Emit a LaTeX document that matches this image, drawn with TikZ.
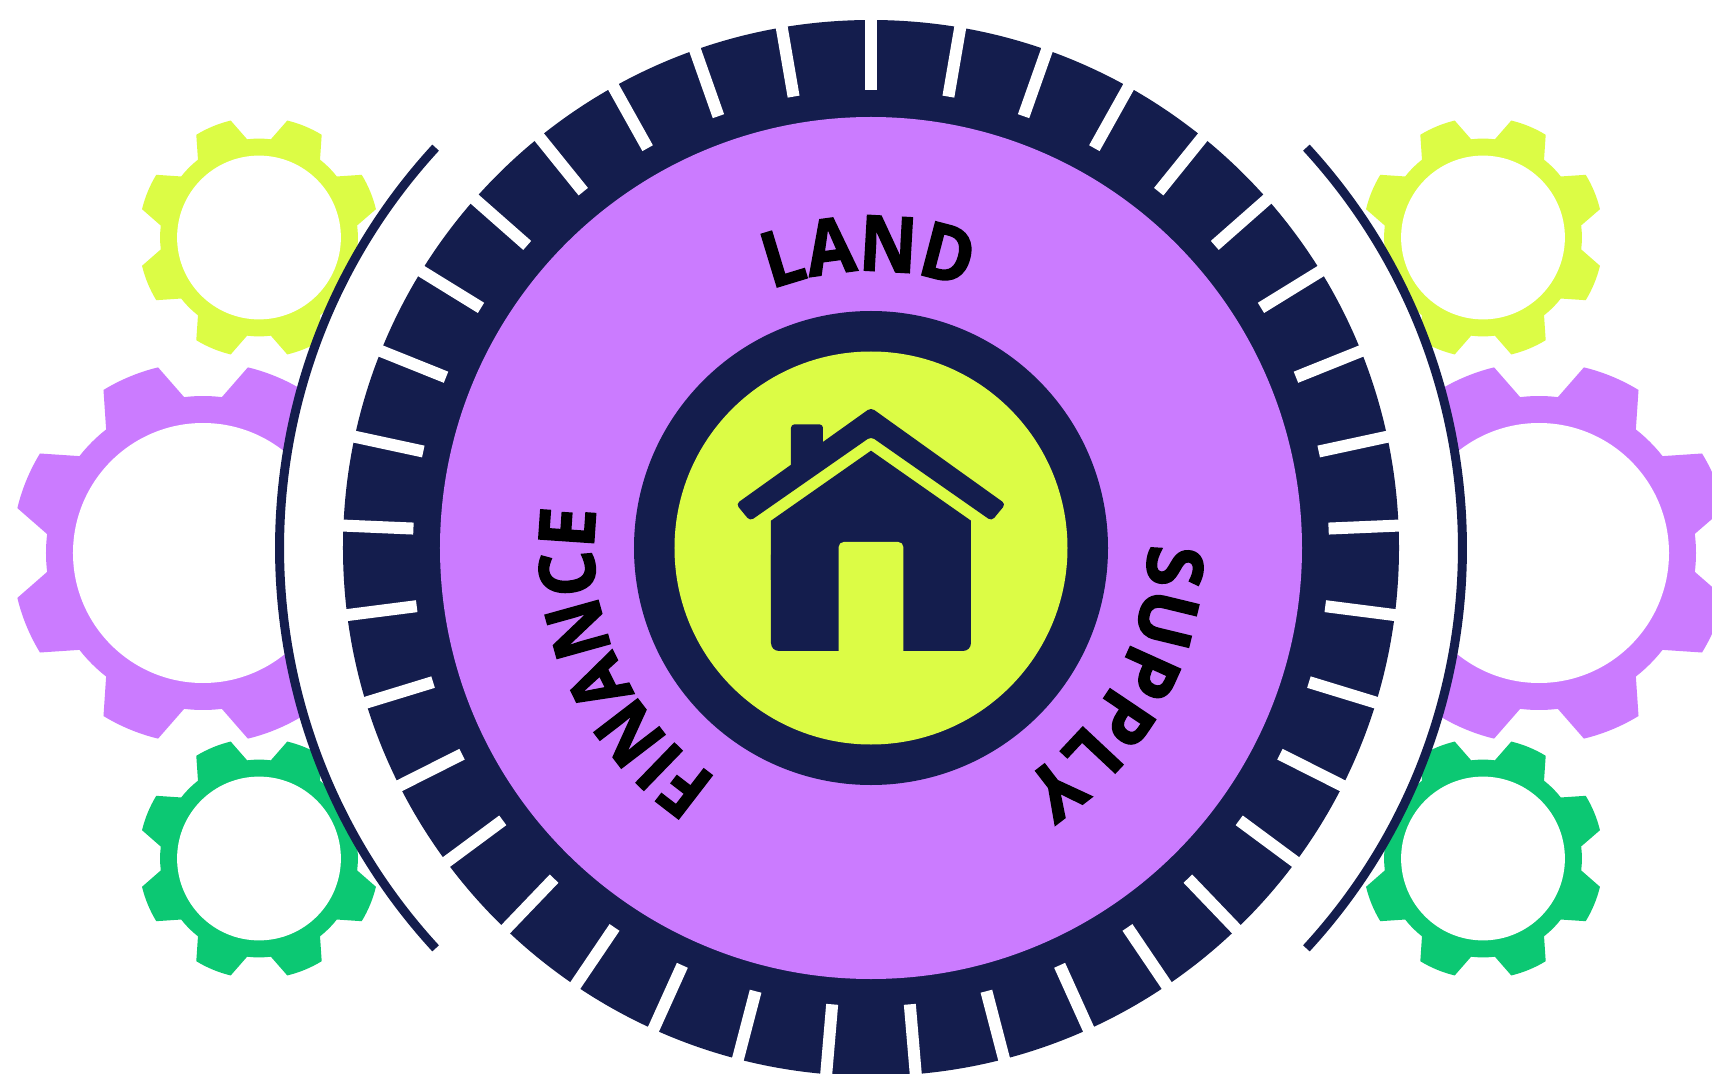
\documentclass[tikz,border=0pt]{standalone}
\usepackage{fontspec}
\usetikzlibrary{decorations.text}
\newfontfamily\lblfont[FakeStretch=0.92,FakeBold=2]{Open Sans}
\newfontfamily\lblwide[FakeStretch=0.97,FakeBold=2]{Open Sans}
\newcommand\lblstyle{\lblfont\bfseries\fontsize{77pt}{77pt}\selectfont}
\newcommand\lblwidestyle{\lblwide\bfseries\fontsize{77pt}{77pt}\selectfont}
\definecolor{navy}{HTML}{141D4D}
\definecolor{violet}{HTML}{CB7BFF}
\definecolor{limey}{HTML}{DCFC45}
\definecolor{greeny}{HTML}{0CC873}
\newcommand\gearat[4]{%
  \begin{scope}[shift={(#1,#2)},scale=#3]
    \fill[#4] (7.0:157pt)
      \foreach \c in {22.5,67.5,112.5,157.5,202.5,247.5,292.5,337.5} {
        -- (\c-8.9:191pt) arc[start angle=\c-8.9,end angle=\c+8.9,radius=191pt]
        -- (\c+15.6:157pt) arc[start angle=\c+15.6,end angle=\c+29.4,radius=157pt]
      } -- cycle;
    \fill[white] (0,0) circle[radius=130pt];
  \end{scope}}
\newcommand\curvedlabel[4]{%
  \path[decorate,decoration={text along path,text={|#4|#1},text align={center}}]
    (#2+45:#3pt) arc[start angle=#2+45,end angle=#2-45,radius=#3pt];}
\begin{document}
\begin{tikzpicture}[x=1pt,y=1pt]
  \useasboundingbox (-871,-525) rectangle (841,548);
  \clip (-871,-525) rectangle (841,548);
  \fill[white] (-871,-525) rectangle (841,548);
  % gears
  \gearat{-612}{310.5}{0.63}{limey}
  \gearat{612}{310.5}{0.63}{limey}
  \gearat{-668}{-5}{1}{violet}
  \gearat{668}{-5}{1}{violet}
  \gearat{-612}{-310.5}{0.63}{greeny}
  \gearat{612}{-310.5}{0.63}{greeny}
  % white band and the two arcs
  \fill[white] (0,0) circle[radius=592pt];
  \draw[navy,line width=9pt] (137.4:591.5pt) arc[start angle=137.4,end angle=222.6,radius=591.5pt];
  \draw[navy,line width=9pt] (-42.6:591.5pt) arc[start angle=-42.6,end angle=42.6,radius=591.5pt];
  % wheel
  \fill[navy] (0,0) circle[radius=528pt];
  \foreach \k [evaluate=\k as \a using 90+\k*360/37] in {0,...,36}
    \draw[white,line width=12pt] (\a:458pt) -- (\a:530pt);
  \fill[violet] (0,0) circle[radius=431pt];
  \fill[navy] (0,0) circle[radius=237pt];
  \fill[limey] (0,0) circle[radius=196.5pt];
  % house
  \begin{scope}[shift={(-171,168)},x=0.33333pt,y=-0.33333pt]
    \fill[navy] (213,422) -- (513,212) -- (813,422) -- (813,600) -- (213,600) -- cycle;
    \fill[navy,rounded corners=8pt] (213,500) rectangle (813,813);
    \fill[limey,rounded corners=5pt] (416,486) rectangle (610,840);
    \fill[navy,rounded corners=3.5pt] (273,133) rectangle (369,265);
    \fill[navy,rounded corners=4pt] (513,83) -- (917,372) -- (875,423) -- (513,170)
      -- (150,423) -- (108,372) -- cycle;
  \end{scope}
  % labels
  \curvedlabel{LAND}{90.5}{277}{\lblstyle}
  \curvedlabel{FINANCE}{204.2}{277}{\lblstyle}
  \curvedlabel{SUPPLY}{-28.2}{277}{\lblwidestyle}
\end{tikzpicture}
\end{document}
